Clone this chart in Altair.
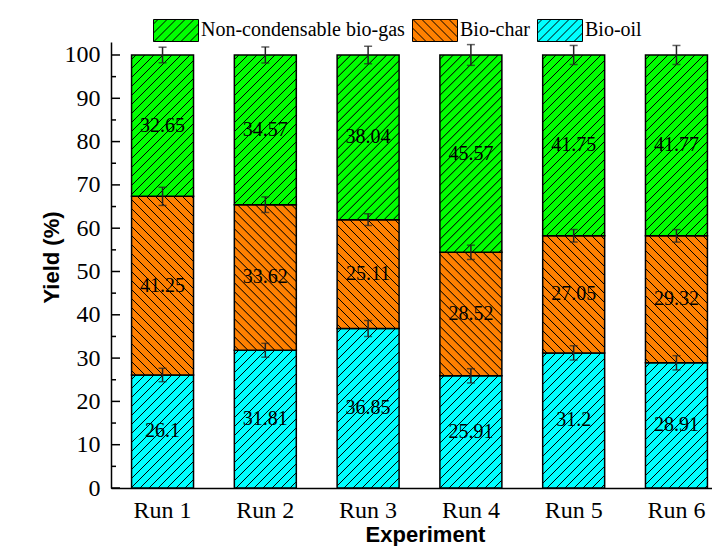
import altair as alt
import pandas as pd

# ---------------- data ----------------
runs = ["Run 1", "Run 2", "Run 3", "Run 4", "Run 5", "Run 6"]
bio_oil = [26.1, 31.81, 36.85, 25.91, 31.2, 28.91]
bio_char = [41.25, 33.62, 25.11, 28.52, 27.05, 29.32]
bio_gas = [32.65, 34.57, 38.04, 45.57, 41.75, 41.77]
err_oil = [1.55, 1.6, 1.85, 1.65, 1.65, 1.65]
err_char = [2.1, 1.8, 1.35, 1.65, 1.45, 1.45]
err_gas = [1.8, 1.85, 2.0, 2.4, 2.2, 2.2]
series_names = ["Non-condensable bio-gas", "Bio-char", "Bio-oil"]
series_colors = ["#00ff00", "#ff8000", "#00ffff"]
series_hatch = ["/", "\\", "/"]
yticks_major = list(range(0, 101, 10))
yticks_minor = list(range(5, 100, 10))

# ---------------- layout ----------------
PLOT_W, PLOT_H = 601, 446
X_RANGE = 617
Y_MAX = 103
PAD_IN, PAD_OUT = 0.397, 0.2
HATCH = "#000000"

step = X_RANGE / (len(runs) - PAD_IN + 2 * PAD_OUT)
bw = step * (1 - PAD_IN)
px_per_unit = PLOT_H / Y_MAX

rows = []
stack = [("Bio-oil", bio_oil, err_oil), ("Bio-char", bio_char, err_char),
         ("Non-condensable bio-gas", bio_gas, err_gas)]
for i, r in enumerate(runs):
    base = 0.0
    for name, vals, errs in stack:
        v = vals[i]
        top = base + v
        rows.append(dict(run=r, series=name, value=v, lo=base, hi=top, mid=base + v / 2,
                         elo=top - errs[i], ehi=top + errs[i], label=str(v)))
        base = top
df = pd.DataFrame(rows)

color_of = dict(zip(series_names, series_colors))
dir_of = dict(zip(series_names, series_hatch))


def hatch_gradient(color, w, h, direction, period=9.0, line=0.6, soft=0.45):
    L = w + h
    s = L / (w * w + h * h)
    if direction == "/":
        x1, y1, x2, y2 = 0, 0, w * s, h * s
    else:
        x1, y1, x2, y2 = 0, 1, w * s, 1 - h * s
    stops = [alt.GradientStop(offset=0, color=color)]
    pos = period / 2
    while pos + line / 2 + soft < L:
        a = pos - line / 2 - soft
        b = pos - line / 2
        c = pos + line / 2
        d = c + soft
        for off, col in [(a, color), (b, HATCH), (c, HATCH), (d, color)]:
            stops.append(alt.GradientStop(offset=round(off / L, 5), color=col))
        pos += period
    stops.append(alt.GradientStop(offset=1, color=color))
    return alt.LinearGradient(gradient="linear", stops=stops, x1=x1, y1=y1,
                              x2=round(x2, 5), y2=round(y2, 5))


def legend_path(direction, hh=22 / 45, spacing=0.4):
    parts = [f"M-1,{-hh:.3f}L1,{-hh:.3f}L1,{hh:.3f}L-1,{hh:.3f}Z"]
    c = -(1 + hh) + spacing / 2
    while c < 1 + hh:
        lo = max(-1, c - hh)
        hi = min(1, c + hh)
        if hi - lo > 0.02:
            if direction == "/":
                parts.append(f"M{lo:.3f},{c - lo:.3f}L{hi:.3f},{c - hi:.3f}")
            else:
                parts.append(f"M{lo:.3f},{lo - c:.3f}L{hi:.3f},{hi - c:.3f}")
        c += spacing
    return "".join(parts)


shape_paths = [legend_path(d) for d in series_hatch]

xscale = alt.Scale(domain=runs, range=[0, X_RANGE], paddingInner=PAD_IN, paddingOuter=PAD_OUT)
yscale = alt.Scale(domain=[0, Y_MAX], nice=False, zero=False)

SERIF = "Liberation Serif"
SANS = "Liberation Sans"

x_axis = alt.Axis(
    title="Experiment", titleFont=SANS, titleFontWeight="bold", titleFontSize=22,
    titleColor="black", titleX=314, titleY=53, titleBaseline="alphabetic", titleAlign="center",
    labelFont=SERIF, labelFontSize=24, labelColor="black", labelAngle=0, labelPadding=10,
    ticks=False, tickSize=0, domainColor="black", domainWidth=1.5, grid=False)
y_axis = alt.Axis(
    values=yticks_major, title="Yield (%)", titleFont=SANS, titleFontWeight="bold",
    titleFontSize=22, titleColor="black", titleAngle=270, titleX=-60, titleY=215,
    titleBaseline="middle", titleAlign="center",
    labelFont=SERIF, labelFontSize=24, labelColor="black", labelPadding=11,
    ticks=False, tickSize=0, domainColor="black", domainWidth=1.5, grid=False)


def X():
    return alt.X("run:N", scale=xscale, axis=x_axis, title="Experiment")


def Y(field):
    return alt.Y(field, scale=yscale, axis=y_axis, title="Yield (%)")


leg = alt.Legend(title=None, orient="none", legendX=42, legendY=-35, direction="horizontal",
                 labelFont=SERIF, labelFontSize=20, labelColor="black", labelLimit=400,
                 labelOffset=2, columnPadding=5, symbolSize=2025,
                 symbolStrokeWidth=1.0, padding=0, symbolOpacity=1)

legend_layer = alt.Chart(df).mark_point(filled=True, size=2025, opacity=1, strokeWidth=1.0).encode(
    x=X(),
    y=Y("mid:Q"),
    fill=alt.Fill("series:N", scale=alt.Scale(domain=series_names, range=series_colors), legend=leg),
    stroke=alt.Stroke("series:N", scale=alt.Scale(domain=series_names,
                                                  range=["black"] * len(series_names)), legend=leg),
    shape=alt.Shape("series:N", scale=alt.Scale(domain=series_names, range=shape_paths), legend=leg),
)

bar_layers = []
for row in rows:
    grad = hatch_gradient(color_of[row["series"]], bw, row["value"] * px_per_unit, dir_of[row["series"]])
    bar_layers.append(
        alt.Chart(df).transform_filter(
            f"datum.run === '{row['run']}' && datum.series === '{row['series']}'"
        ).mark_bar(fill=grad, stroke="black", strokeWidth=1.5).encode(
            x=X(),
            y=Y("lo:Q"),
            y2="hi:Q",
        )
    )

text_layer = alt.Chart(df).mark_text(font=SERIF, fontSize=20, color="black", baseline="middle",
                                     align="center").encode(
    x=X(),
    y=Y("mid:Q"),
    text="label:N",
)

err_rule = alt.Chart(df).mark_rule(color="#222222", strokeWidth=1.5).encode(
    x=X(), y=Y("elo:Q"), y2="ehi:Q")
err_lo = alt.Chart(df).mark_tick(color="#222222", size=8, thickness=1.5).encode(
    x=X(), y=Y("elo:Q"))
err_hi = alt.Chart(df).mark_tick(color="#222222", size=8, thickness=1.5).encode(
    x=X(), y=Y("ehi:Q"))

tick_major = alt.Chart(pd.DataFrame({"v": yticks_major})).mark_rule(color="black", strokeWidth=1.5).encode(
    y=Y("v:Q"), x=alt.value(0), x2=alt.value(9))
tick_minor = alt.Chart(pd.DataFrame({"v": yticks_minor})).mark_rule(color="black", strokeWidth=1.5).encode(
    y=Y("v:Q"), x=alt.value(0), x2=alt.value(5))

chart = alt.layer(legend_layer, *bar_layers, text_layer, err_rule, err_lo, err_hi,
                  tick_major, tick_minor).properties(
    width=PLOT_W, height=PLOT_H,
    padding={"left": 103, "top": 34, "right": 0, "bottom": 58},
    autosize=alt.AutoSizeParams(type="none"),
).configure_view(stroke=None)

chart.save("out.html", embed_options={"renderer": "svg", "actions": False})
